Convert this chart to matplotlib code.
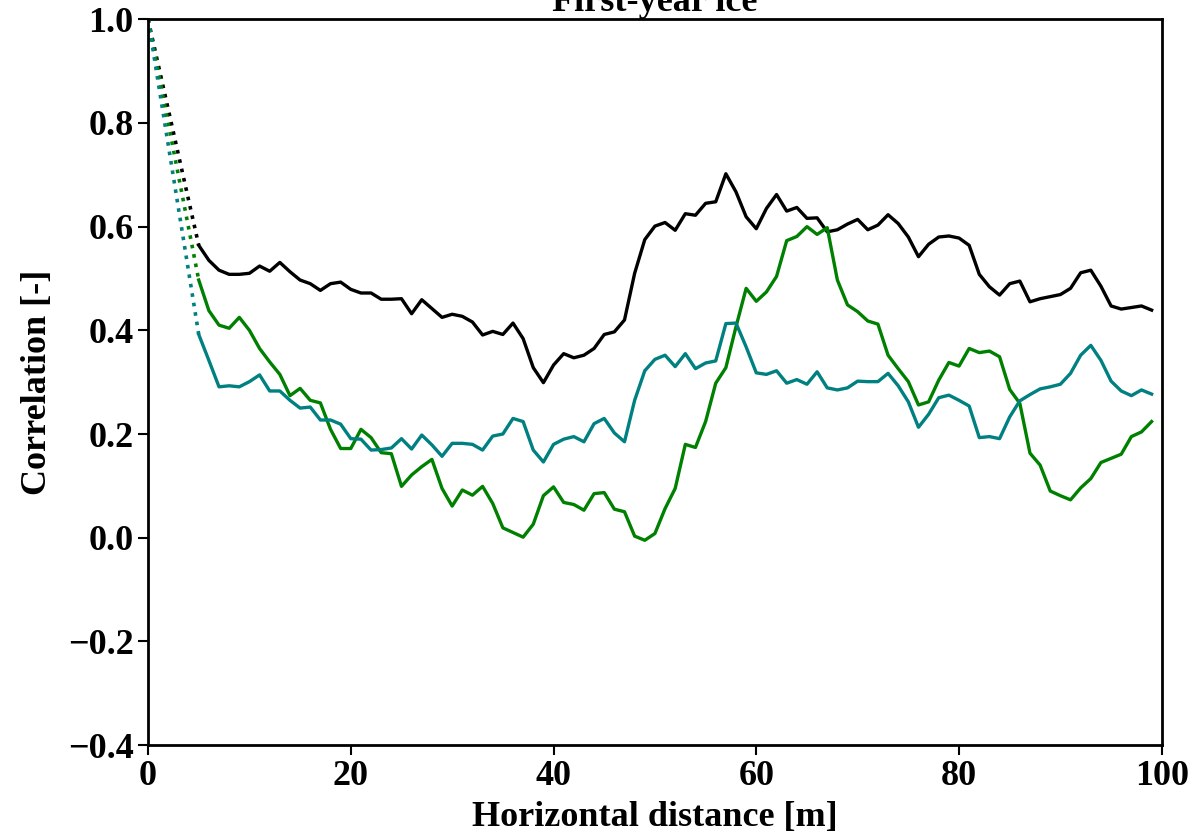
import numpy as np
import matplotlib
matplotlib.use("Agg")
import matplotlib.pyplot as plt

plt.rcParams['font.family'] = ['Liberation Serif', 'DejaVu Serif']
plt.rcParams['font.weight'] = 'bold'

# lag 0 and then lags 5..99 m
lags = [0] + list(range(5, 100))

black_corr = [1.0,
    0.564, 0.535, 0.516, 0.508, 0.508, 0.510, 0.524, 0.514, 0.531, 0.513,
    0.497, 0.490, 0.477, 0.490, 0.493, 0.479, 0.472, 0.472, 0.460, 0.460,
    0.461, 0.432, 0.459, 0.442, 0.425, 0.431, 0.427, 0.416, 0.391, 0.398,
    0.392, 0.414, 0.384, 0.328, 0.299, 0.333, 0.355, 0.347, 0.352, 0.365,
    0.392, 0.397, 0.420, 0.510, 0.575, 0.601, 0.608, 0.593, 0.625, 0.622,
    0.645, 0.648, 0.702, 0.667, 0.619, 0.596, 0.635, 0.662, 0.630, 0.637,
    0.616, 0.617, 0.590, 0.594, 0.605, 0.614, 0.594, 0.603, 0.623, 0.606,
    0.580, 0.542, 0.566, 0.580, 0.582, 0.578, 0.564, 0.508, 0.484, 0.468,
    0.490, 0.495, 0.455, 0.461, 0.465, 0.469, 0.481, 0.511, 0.516, 0.485,
    0.447, 0.441, 0.444, 0.447, 0.439]

teal_corr = [1.0,
    0.392, 0.342, 0.291, 0.293, 0.291, 0.301, 0.314, 0.283, 0.283, 0.265,
    0.250, 0.252, 0.227, 0.227, 0.219, 0.191, 0.190, 0.169, 0.170, 0.173,
    0.191, 0.171, 0.198, 0.179, 0.157, 0.182, 0.182, 0.180, 0.169, 0.196,
    0.200, 0.230, 0.224, 0.169, 0.146, 0.180, 0.190, 0.195, 0.185, 0.220,
    0.230, 0.202, 0.185, 0.265, 0.322, 0.344, 0.352, 0.330, 0.355, 0.326,
    0.337, 0.341, 0.413, 0.414, 0.368, 0.318, 0.315, 0.322, 0.298, 0.305,
    0.296, 0.320, 0.289, 0.285, 0.289, 0.302, 0.301, 0.301, 0.317, 0.293,
    0.262, 0.213, 0.238, 0.270, 0.275, 0.265, 0.254, 0.193, 0.195, 0.191,
    0.233, 0.264, 0.276, 0.287, 0.291, 0.296, 0.317, 0.352, 0.371, 0.342,
    0.302, 0.283, 0.274, 0.285, 0.277]

green_corr = [1.0,
    0.497, 0.438, 0.410, 0.404, 0.425, 0.400, 0.365, 0.339, 0.315, 0.274,
    0.288, 0.265, 0.260, 0.209, 0.172, 0.172, 0.209, 0.193, 0.164, 0.162,
    0.099, 0.121, 0.137, 0.151, 0.095, 0.061, 0.092, 0.082, 0.099, 0.066,
    0.019, 0.010, 0.001, 0.026, 0.081, 0.098, 0.068, 0.064, 0.053, 0.085,
    0.087, 0.055, 0.050, 0.003, -0.005, 0.008, 0.056, 0.095, 0.180, 0.174,
    0.224, 0.298, 0.328, 0.407, 0.481, 0.456, 0.474, 0.504, 0.573, 0.581,
    0.600, 0.585, 0.598, 0.497, 0.449, 0.436, 0.418, 0.412, 0.352, 0.326,
    0.301, 0.256, 0.262, 0.304, 0.338, 0.331, 0.365, 0.357, 0.360, 0.349,
    0.286, 0.259, 0.163, 0.140, 0.090, 0.081, 0.073, 0.096, 0.114, 0.145,
    0.153, 0.161, 0.195, 0.204, 0.224]

series = [(black_corr, 'black'), (green_corr, 'green'), (teal_corr, 'teal')]

fig = plt.figure(figsize=(11.94, 8.39), dpi=100)
ax = fig.add_axes([0.124, 0.112, 0.849, 0.865])

for vals, col in series:
    # first step (0 -> 5 m) dotted, rest solid
    ax.plot(lags[:2], vals[:2], color=col, linestyle=':', linewidth=2.6)
    ax.plot(lags[1:], vals[1:], color=col, linewidth=2.4)

ax.set_xlim(0, 100)
ax.set_ylim(-0.4, 1.0)
ax.set_xticks([0, 20, 40, 60, 80, 100])
ax.set_yticks([-0.4, -0.2, 0.0, 0.2, 0.4, 0.6, 0.8, 1.0])
ax.tick_params(labelsize=26, width=1.5, length=7)
for s in ax.spines.values():
    s.set_linewidth(2)

ax.set_xlabel('Horizontal distance [m]', fontsize=26, fontweight='bold', labelpad=6)
ax.set_ylabel('Correlation [-]', fontsize=26, fontweight='bold', labelpad=10)
ax.set_title('First-year ice', fontsize=26, fontweight='bold', pad=4)

fig.savefig('out.png', dpi=100)
